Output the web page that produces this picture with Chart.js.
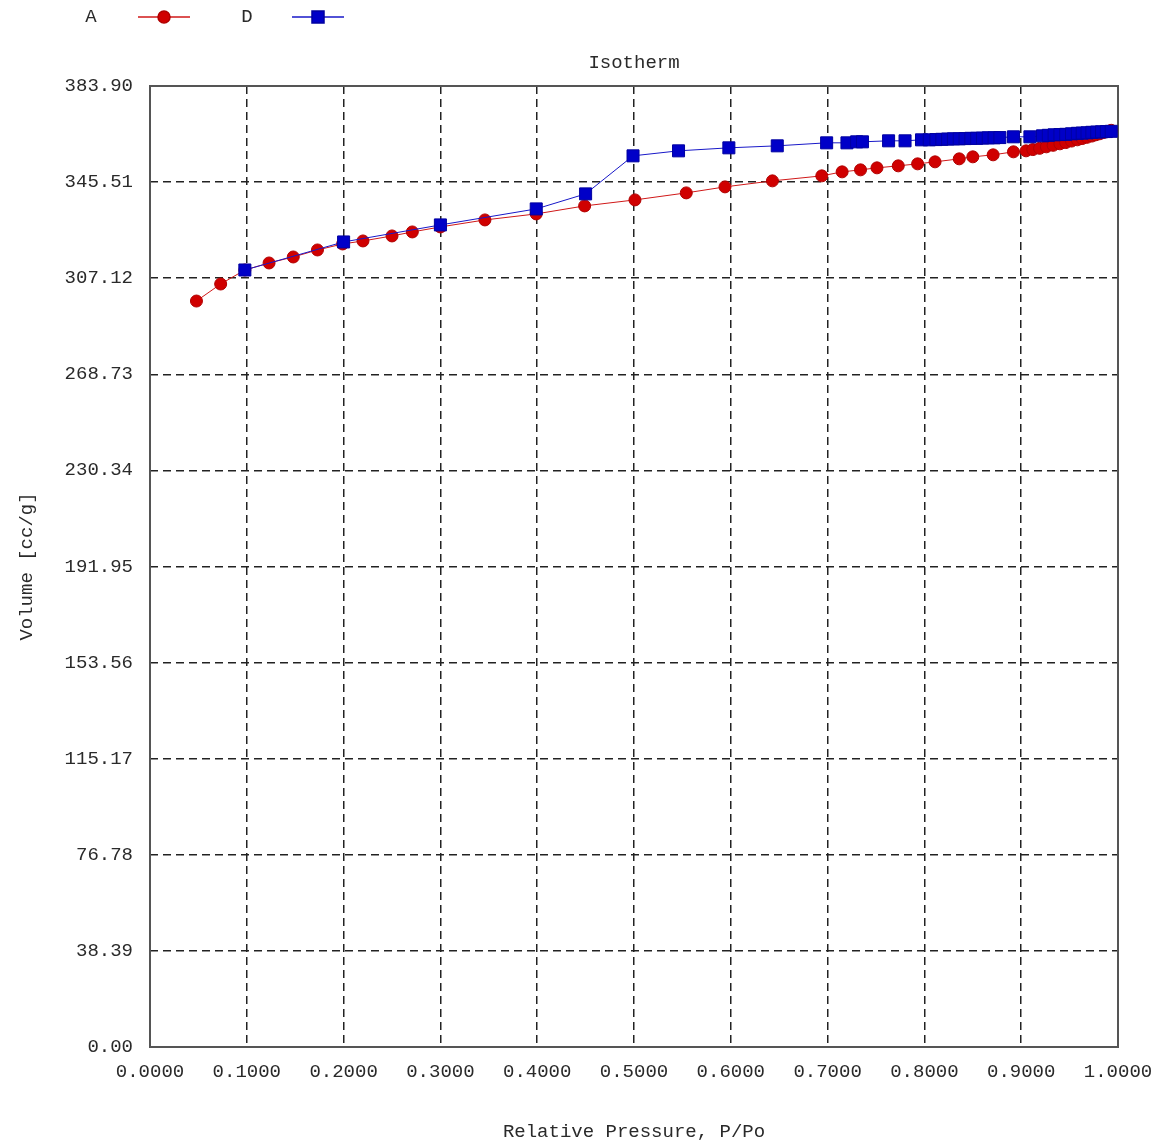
<!DOCTYPE html>
<html>
<head>
<meta charset="utf-8">
<script src="https://cdn.jsdelivr.net/npm/chart.js@4/dist/chart.umd.min.js"></script>
<style>
  html, body { margin: 0; padding: 0; background: #fff; }
  #wrap { width: 1155px; height: 1145px; }
</style>
</head>
<body>
<div id="wrap"><canvas id="chart" width="1155" height="1145"></canvas></div>
<script>
// ---------- DATA ----------
const chartTitle = "Isotherm";
const xTitle = "Relative Pressure, P/Po";
const yTitle = "Volume [cc/g]";

const xTicks = [0, 0.1, 0.2, 0.3, 0.4, 0.5, 0.6, 0.7, 0.8, 0.9, 1.0];
const yTickLabels = ["0.00", "38.39", "76.78", "115.17", "153.56", "191.95",
  "230.34", "268.73", "307.12", "345.51", "383.90"];

// adsorption branch (A)
const pA = [0.048, 0.073, 0.098, 0.123, 0.148, 0.173, 0.199, 0.220, 0.250, 0.271,
  0.300, 0.346, 0.399, 0.449, 0.501, 0.554, 0.594, 0.643, 0.694, 0.715,
  0.734, 0.751, 0.773, 0.793, 0.811, 0.836, 0.850, 0.871, 0.892, 0.905,
  0.912, 0.919, 0.926, 0.933, 0.940, 0.946, 0.952, 0.958, 0.963, 0.968,
  0.973, 0.977, 0.981, 0.985, 0.989, 0.993];
const vA = [298.0, 304.8, 310.4, 313.2, 315.6, 318.4, 320.8, 322.0, 324.0, 325.6,
  327.6, 330.4, 332.8, 336.0, 338.4, 341.2, 343.6, 346.0, 348.0, 349.6,
  350.4, 351.2, 352.0, 352.8, 353.6, 354.8, 355.6, 356.4, 357.6, 358.0,
  358.5, 359.0, 359.6, 360.2, 360.8, 361.3, 361.9, 362.4, 362.9, 363.4,
  363.9, 364.4, 364.8, 365.3, 365.7, 366.2];

// desorption branch (D)
const pD = [0.098, 0.200, 0.300, 0.399, 0.450, 0.499, 0.546, 0.598, 0.648, 0.699,
  0.720, 0.730, 0.736, 0.763, 0.780, 0.797, 0.805, 0.812, 0.818, 0.824,
  0.830, 0.836, 0.842, 0.848, 0.854, 0.860, 0.866, 0.872, 0.878, 0.892,
  0.909, 0.922, 0.928, 0.934, 0.940, 0.946, 0.952, 0.958, 0.963, 0.968,
  0.973, 0.978, 0.983, 0.988, 0.993];
const vD = [310.4, 321.6, 328.4, 334.8, 340.8, 356.0, 358.0, 359.2, 360.0, 361.2,
  361.2, 361.6, 361.6, 362.0, 362.0, 362.4, 362.4, 362.5, 362.6, 362.7,
  362.8, 362.8, 362.9, 363.0, 363.0, 363.1, 363.2, 363.2, 363.3, 363.6,
  363.6, 364.0, 364.2, 364.4, 364.5, 364.6, 364.8, 365.0, 365.1, 365.2,
  365.4, 365.5, 365.6, 365.7, 365.8];

const FONT = "'Liberation Mono', 'DejaVu Sans Mono', monospace";
const TEXT = "#2a2a2a";

const toPoints = (xs, ys) => xs.map((x, i) => ({ x: x, y: ys[i] }));

// ---------- PLUGIN: frame, title, legend ----------
const decor = {
  id: "decor",
  beforeDatasetsDraw(chart) {
    const { ctx, chartArea: a } = chart;
    ctx.save();
    ctx.strokeStyle = "#555";
    ctx.lineWidth = 2;
    ctx.strokeRect(a.left, a.top, a.right - a.left, a.bottom - a.top);
    ctx.restore();
  },
  afterDraw(chart) {
    const { ctx, chartArea: a } = chart;
    ctx.save();
    ctx.fillStyle = TEXT;
    ctx.font = "19px " + FONT;
    ctx.textAlign = "center";
    ctx.textBaseline = "middle";
    ctx.fillText(chartTitle, (a.left + a.right) / 2, 63);

    // legend: label, then line with marker
    const items = [{ x: 91, line: [138, 190] }, { x: 247, line: [292, 344] }];
    chart.data.datasets.forEach((ds, i) => {
      const it = items[i];
      ctx.fillStyle = TEXT;
      ctx.fillText(ds.label, it.x, 17);
      ctx.strokeStyle = ds.borderColor;
      ctx.lineWidth = 1.5;
      ctx.beginPath();
      ctx.moveTo(it.line[0], 17);
      ctx.lineTo(it.line[1], 17);
      ctx.stroke();
      ctx.fillStyle = ds.pointBackgroundColor;
      ctx.strokeStyle = ds.pointBorderColor;
      Chart.helpers.drawPoint(ctx, {
        pointStyle: ds.pointStyle, radius: ds.pointRadius, borderWidth: 1
      }, (it.line[0] + it.line[1]) / 2, 17);
    });
    ctx.restore();
  }
};

// ---------- CHART ----------
new Chart(document.getElementById("chart"), {
  type: "scatter",
  data: {
    datasets: [
      {
        label: "A",
        data: toPoints(pA, vA),
        showLine: true,
        borderColor: "#d01818",
        borderWidth: 1,
        pointStyle: "circle",
        pointRadius: 6,
        pointBackgroundColor: "#d00000",
        pointBorderColor: "#b00000",
        pointBorderWidth: 1,
        order: 2
      },
      {
        label: "D",
        data: toPoints(pD, vD),
        showLine: true,
        borderColor: "#1818c8",
        borderWidth: 1,
        pointStyle: "rect",
        pointRadius: 8.5,
        pointBackgroundColor: "#0000c8",
        pointBorderColor: "#0000a0",
        pointBorderWidth: 1,
        order: 1
      }
    ]
  },
  options: {
    responsive: false,
    animation: false,
    layout: { padding: { top: 86, right: 37, left: 0, bottom: 0 } },
    plugins: {
      legend: { display: false },
      title: { display: false },
      tooltip: { enabled: false }
    },
    scales: {
      x: {
        type: "linear",
        min: 0,
        max: 1,
        afterFit: s => { s.height = 98; s.paddingLeft = 0; s.paddingRight = 0; },
        afterBuildTicks: s => { s.ticks = xTicks.map(v => ({ value: v })); },
        ticks: {
          padding: 14,
          color: TEXT,
          font: { family: FONT, size: 19 },
          maxRotation: 0,
          callback: v => Number(v).toFixed(4)
        },
        grid: { color: "#222", lineWidth: 1.5, drawTicks: false },
        border: { display: false, dash: [8, 5] },
        title: {
          display: true,
          text: xTitle,
          color: TEXT,
          font: { family: FONT, size: 19 },
          padding: { top: 0, bottom: 2 }
        }
      },
      y: {
        type: "linear",
        min: 0,
        max: 383.9,
        afterFit: s => { s.width = 150; s.paddingTop = 0; s.paddingBottom = 0; },
        afterBuildTicks: s => { s.ticks = yTickLabels.map(t => ({ value: parseFloat(t) })); },
        ticks: {
          padding: 17,
          color: TEXT,
          font: { family: FONT, size: 19 },
          callback: v => Number(v).toFixed(2)
        },
        grid: { color: "#222", lineWidth: 1.5, drawTicks: false },
        border: { display: false, dash: [8, 5] },
        title: {
          display: true,
          text: yTitle,
          color: TEXT,
          font: { family: FONT, size: 19 },
          padding: { top: 16, bottom: 0 }
        }
      }
    }
  },
  plugins: [decor]
});
</script>
</body>
</html>
